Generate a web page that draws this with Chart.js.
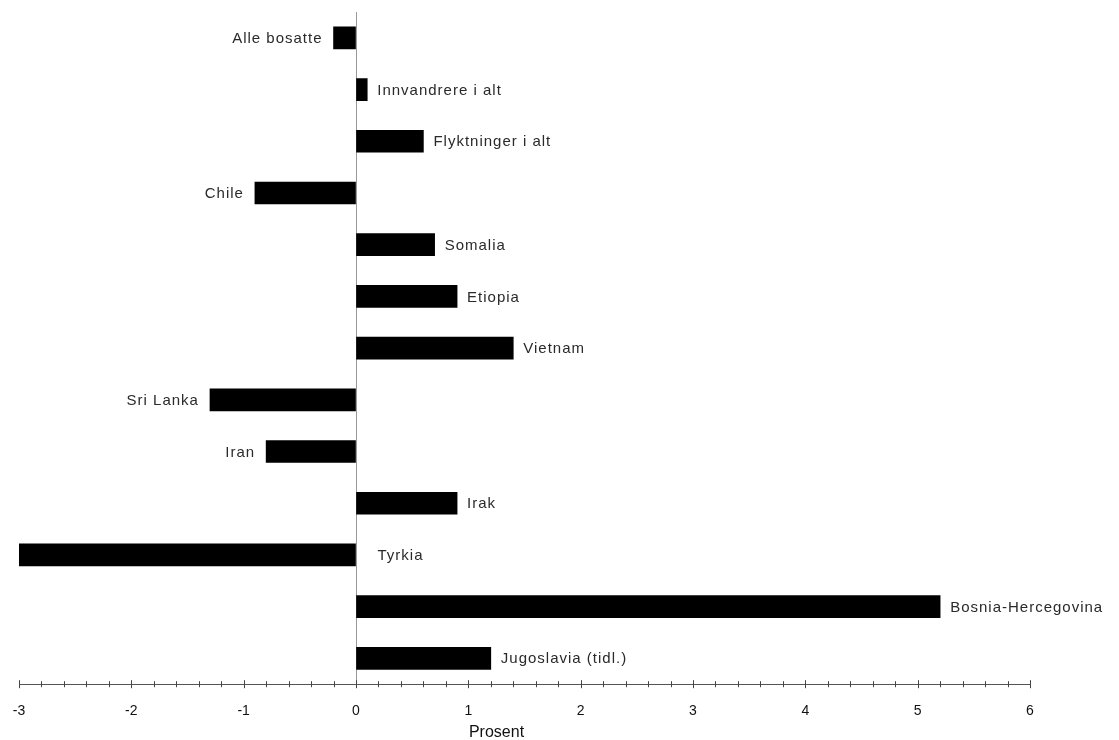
<!DOCTYPE html>
<html>
<head>
<meta charset="utf-8">
<script src="https://cdn.jsdelivr.net/npm/chart.js@4.4.1/dist/chart.umd.min.js"></script>
<style>
html,body{margin:0;padding:0;background:#fff;}
#wrap{width:1119px;height:740px;position:relative;}
</style>
</head>
<body>
<div id="wrap"><canvas id="c"></canvas></div>
<script>
const categories = ["Alle bosatte","Innvandrere i alt","Flyktninger i alt","Chile","Somalia","Etiopia","Vietnam","Sri Lanka","Iran","Irak","Tyrkia","Bosnia-Hercegovina","Jugoslavia (tidl.)"];
const values = [-0.2, 0.1, 0.6, -0.9, 0.7, 0.9, 1.4, -1.3, -0.8, 0.9, -3.0, 5.2, 1.2];
const xMin = -3, xMax = 6, xStep = 0.2;
const axisTitle = "Prosent";

const FONT = "'Liberation Sans', Arial, Helvetica, sans-serif";

const barLabels = {
  id: 'barLabels',
  afterDatasetsDraw(chart) {
    const ctx = chart.ctx;
    const meta = chart.getDatasetMeta(0);
    const area = chart.chartArea;
    ctx.save();
    ctx.font = "15px " + FONT;
    ctx.letterSpacing = "1px";
    ctx.fillStyle = "#2a2a2a";
    ctx.textBaseline = "middle";
    meta.data.forEach((bar, i) => {
      const text = categories[i];
      const v = values[i];
      const w = ctx.measureText(text).width;
      if (v >= 0) {
        ctx.textAlign = "left";
        ctx.fillText(text, bar.x + 10, bar.y + 1);
      } else if (bar.x - 12 - w >= area.left) {
        ctx.textAlign = "right";
        ctx.fillText(text, bar.x - 11, bar.y + 1);
      } else {
        ctx.textAlign = "left";
        ctx.fillText(text, bar.base + 22, bar.y + 1);
      }
    });
    ctx.restore();
  }
};

const axisDecor = {
  id: 'axisDecor',
  afterDraw(chart) {
    const ctx = chart.ctx;
    const sx = chart.scales.x;
    const y = sx.top;
    ctx.save();
    ctx.strokeStyle = "#444";
    ctx.lineWidth = 1;
    sx.ticks.forEach(t => {
      const px = Math.round(sx.getPixelForValue(t.value)) + 0.5;
      const major = Math.abs(t.value - Math.round(t.value)) < 1e-6;
      const h = major ? 4 : 3;
      ctx.beginPath();
      ctx.moveTo(px, y - h);
      ctx.lineTo(px, y + h);
      ctx.stroke();
    });
    ctx.font = "16px " + FONT;
    ctx.fillStyle = "#111";
    ctx.textAlign = "center";
    ctx.textBaseline = "middle";
    ctx.fillText(axisTitle, (chart.chartArea.left + chart.chartArea.right) / 2 - 28, 733);
    ctx.restore();
  }
};

new Chart(document.getElementById('c'), {
  type: 'bar',
  data: {
    labels: categories,
    datasets: [{
      data: values,
      backgroundColor: "#000",
      borderWidth: 0,
      barThickness: 22
    }]
  },
  options: {
    indexAxis: 'y',
    responsive: true,
    maintainAspectRatio: false,
    animation: false,
    layout: { padding: { left: 19, right: 89, top: 12, bottom: 20 } },
    plugins: { legend: { display: false }, tooltip: { enabled: false } },
    scales: {
      y: { display: false, offset: true },
      x: {
        min: xMin, max: xMax,
        border: { display: true, color: "#555", width: 1 },
        grid: {
          drawTicks: true,
          tickLength: 19,
          tickColor: "rgba(0,0,0,0)",
          drawOnChartArea: true,
          color: c => (c.tick && Math.abs(c.tick.value) < 1e-6) ? "#999" : "rgba(0,0,0,0)",
          lineWidth: 1
        },
        ticks: {
          stepSize: xStep,
          autoSkip: false,
          maxRotation: 0,
          padding: 0,
          color: "#111",
          font: { family: FONT, size: 14 },
          callback: v => Math.abs(v - Math.round(v)) < 1e-6 ? String(Math.round(v)) : ''
        }
      }
    }
  },
  plugins: [barLabels, axisDecor]
});
</script>
</body>
</html>
